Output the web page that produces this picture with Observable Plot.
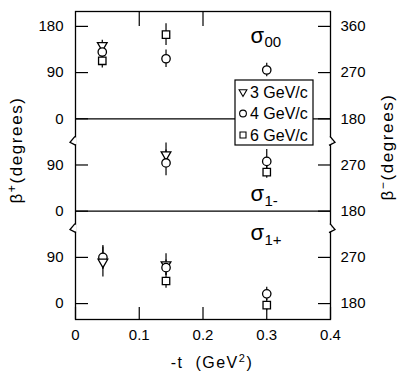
<!DOCTYPE html>
<html><head><meta charset="utf-8">
<script src="https://cdn.jsdelivr.net/npm/d3@7"></script>
<script src="https://cdn.jsdelivr.net/npm/@observablehq/plot@0.6"></script>
<style>body{margin:0;background:#fff} svg{display:block}</style>
</head><body><div id="chart"></div>
<script>
// ---- data ----
const panels = ["σ00", "σ1-", "σ1+"];
const panelSubscripts = ["00", "1-", "1+"];
const panelOffsets = [360, 180, 0];          // stacking offset of each panel (degrees)
const momenta = ["3 GeV/c", "4 GeV/c", "6 GeV/c"];
const xTicks = [0, 0.1, 0.2, 0.3, 0.4];
const yTickValues = [0, 90, 180, 270, 360, 450, 540];
const leftTickLabels = ["0", "90", "0", "90", "0", "90", "180"];
const rightTickLabels = ["180", "270", "180", "270", "180", "270", "360"];

const pointPanel    = ["σ00","σ00","σ00","σ00","σ00","σ00","σ1-","σ1-","σ1-","σ1-","σ1+","σ1+","σ1+","σ1+","σ1+","σ1+","σ1+"];
const pointMomentum = ["3 GeV/c","4 GeV/c","6 GeV/c","6 GeV/c","4 GeV/c","4 GeV/c","3 GeV/c","4 GeV/c","4 GeV/c","6 GeV/c","4 GeV/c","3 GeV/c","3 GeV/c","4 GeV/c","6 GeV/c","4 GeV/c","6 GeV/c"];
const pointT        = [0.042,0.042,0.042,0.142,0.142,0.300,0.142,0.142,0.300,0.300,0.043,0.043,0.142,0.142,0.142,0.300,0.300];
const pointBeta     = [143,130,113,164,117,95,110,94,97,76,90,81,76,70,44,19,-3];
const pointErr      = [10,8,14,21,17,13,23,25,23,12,23,29,21,15,14,13,11];

// ---- derived ----
const offsetOf = new Map(panels.map((p, i) => [p, panelOffsets[i]]));
const points = pointPanel.map((p, i) => ({
  panel: p, momentum: pointMomentum[i], t: pointT[i],
  beta: pointBeta[i], err: pointErr[i], y: pointBeta[i] + offsetOf.get(p)
}));
const leftLab = new Map(yTickValues.map((v, i) => [v, leftTickLabels[i]]));
const rightLab = new Map(yTickValues.map((v, i) => [v, rightTickLabels[i]]));
const breaks = [panelOffsets[1] + 135, panelOffsets[2] + 145];

const triangleDown = {
  draw(ctx, size) {
    const a = Math.sqrt(size) * 1.3, h = a * Math.sqrt(3) / 2;
    ctx.moveTo(-a / 2, -h / 3); ctx.lineTo(a / 2, -h / 3); ctx.lineTo(0, 2 * h / 3); ctx.closePath();
  }
};
const symbolRange = [triangleDown, "circle", "square"];
const FONT = "Liberation Sans, Arial, sans-serif";

// custom mark: axis breaks
function breakMarks(index, scales) {
  const g = d3.create("svg:g").attr("fill", "none").attr("stroke", "black").attr("stroke-width", 1.3);
  const L = scales.x(0), R = scales.x(0.4);
  for (const b of breaks) {
    const y = scales.y(b);
    g.append("line").attr("x1", L).attr("x2", L).attr("y1", y - 4).attr("y2", y + 3).attr("stroke", "white").attr("stroke-width", 3);
    g.append("line").attr("x1", R).attr("x2", R).attr("y1", y - 4).attr("y2", y + 3).attr("stroke", "white").attr("stroke-width", 3);
    g.append("path").attr("d", `M${L},${y - 5}L${L - 5},${y + 1}L${L + 1},${y + 4}`);
    g.append("path").attr("d", `M${R},${y - 5}L${R + 5},${y + 1}L${R - 1},${y + 4}`);
  }
  return g.node();
}

// custom mark: legend box inside the plot
function legendMark(index, scales, values, dims) {
  const right = dims.width - dims.marginRight - 17;
  const left = right - 78, top = dims.marginTop + 69;
  const g = d3.create("svg:g");
  g.append("rect").attr("x", left).attr("y", top).attr("width", 78).attr("height", 65)
    .attr("fill", "white").attr("stroke", "black").attr("stroke-width", 1.2);
  momenta.forEach((m, i) => {
    const cy = top + 12 + i * 21.5;
    const sym = symbolRange[i];
    const type = sym === "circle" ? d3.symbolCircle : sym === "square" ? d3.symbolSquare : sym;
    g.append("path").attr("d", d3.symbol(type, 36)()).attr("transform", `translate(${left + 8},${cy})`)
      .attr("fill", "white").attr("stroke", "black").attr("stroke-width", 1.1);
    g.append("text").attr("x", left + 15).attr("y", cy).attr("dy", "0.35em").attr("text-anchor", "start")
      .attr("font-family", FONT).attr("font-size", 16).attr("fill", "black").text(m);
  });
  return g.node();
}

// custom mark: axis titles
function titles(index, scales, values, dims) {
  const g = d3.create("svg:g").attr("font-family", FONT).attr("fill", "black").attr("text-anchor", "middle");
  const lt = g.append("text").attr("transform", "translate(22,150) rotate(-90)").attr("font-size", 17).attr("letter-spacing", 1.6);
  lt.append("tspan").text("β");
  lt.append("tspan").attr("dy", -6).attr("font-size", 12).text("+");
  lt.append("tspan").attr("dy", 6).text("(degrees)");
  const rt = g.append("text").attr("transform", "translate(393,147) rotate(-90)").attr("font-size", 17).attr("letter-spacing", 1.6);
  rt.append("tspan").text("β");
  rt.append("tspan").attr("dy", -6).attr("font-size", 12).text("−");
  rt.append("tspan").attr("dy", 6).text("(degrees)");
  const bt = g.append("text").attr("x", 212).attr("y", 368).attr("font-size", 16).attr("letter-spacing", 1.5);
  bt.append("tspan").text("-t  (GeV");
  bt.append("tspan").attr("dy", -6).attr("font-size", 11).text("2");
  bt.append("tspan").attr("dy", 6).text(")");
  return g.node();
}

const labelY = (d, i) => [162, 34, 138][i] + panelOffsets[i];

const chart = Plot.plot({
  width: 399, height: 379,
  marginLeft: 75, marginRight: 69, marginTop: 11, marginBottom: 60,
  style: {fontFamily: FONT, fontSize: "15px", color: "black", background: "white"},
  x: {domain: [0, 0.4]},
  y: {domain: [-31, 569]},
  symbol: {domain: momenta, range: symbolRange},
  marks: [
    Plot.ruleY([panelOffsets[0], panelOffsets[1]], {stroke: "black", strokeWidth: 1.3}),
    Plot.axisY(yTickValues, {anchor: "left", tickSize: -13, tickPadding: 25, tickFormat: d => leftLab.get(d), label: null, fontSize: 15, strokeWidth: 1.2}),
    Plot.axisY(yTickValues, {anchor: "right", tickSize: -13, tickPadding: 23, tickFormat: d => rightLab.get(d), label: null, fontSize: 15, strokeWidth: 1.2}),
    Plot.axisX(xTicks, {anchor: "bottom", tickSize: -12, tickPadding: 22, tickFormat: d => d === 0 ? "0" : String(d), label: null, fontSize: 15, strokeWidth: 1.2}),
    Plot.axisX([0.1, 0.2], {anchor: "top", tickSize: -14, tickFormat: () => "", label: null, strokeWidth: 1.2}),
    Plot.frame({stroke: "black", strokeWidth: 1.3}),
    breakMarks,
    Plot.ruleX(points, {x: "t", y1: d => d.y - d.err, y2: d => d.y + d.err, stroke: "black", strokeWidth: 1.2}),
    Plot.dot(points, {x: "t", y: "y", symbol: "momentum", r: 4.2, stroke: "black", fill: "white", strokeWidth: 1.3}),
    Plot.text(panels, {x: 0.2745, y: labelY, text: d => "σ", textAnchor: "start", fontSize: 22, fill: "black"}),
    Plot.text(panels, {x: 0.2745, y: labelY, text: (d, i) => panelSubscripts[i], textAnchor: "start", dx: 14, dy: 7, fontSize: 15, fill: "black"}),
    legendMark,
    titles
  ]
});
document.getElementById("chart").append(chart);
</script>
</body></html>
